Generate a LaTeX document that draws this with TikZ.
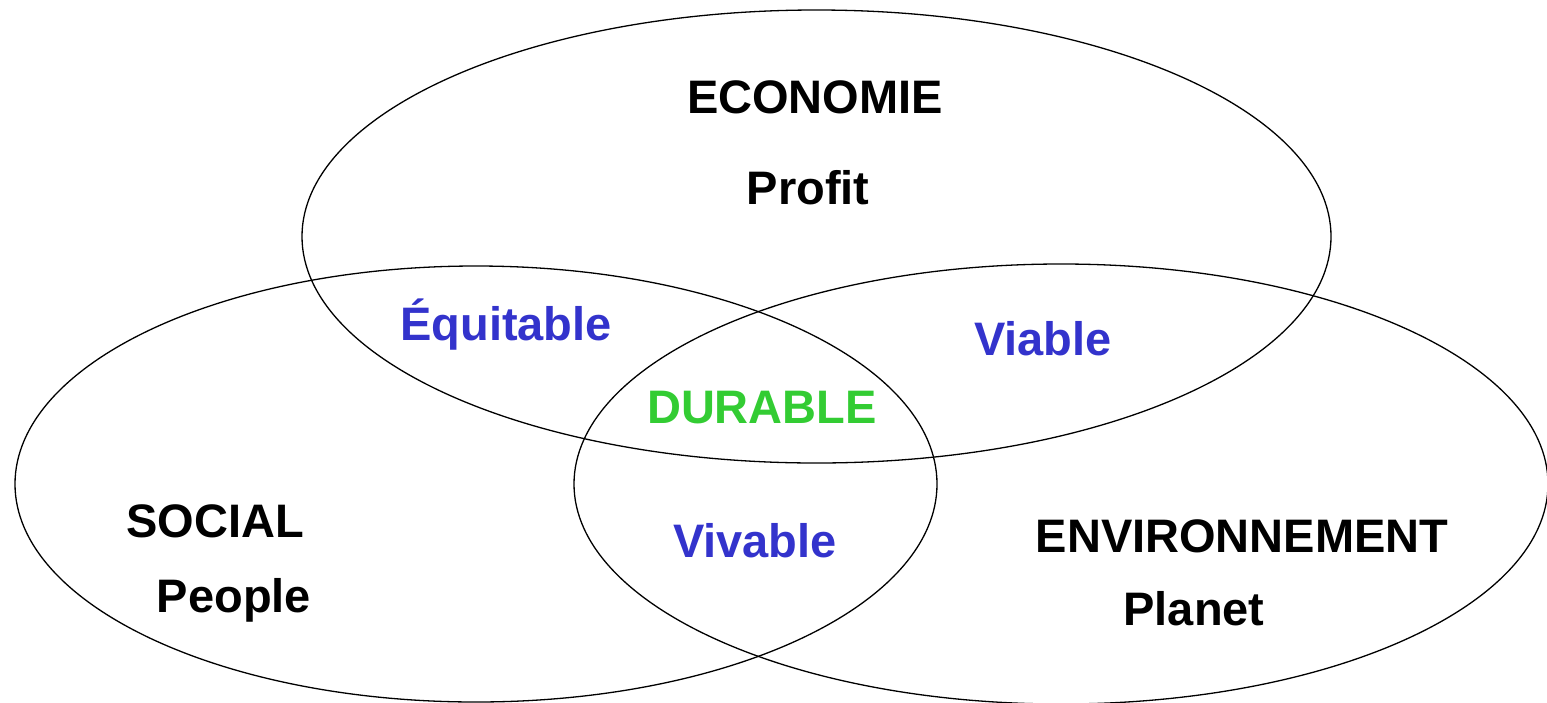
\documentclass[tikz,border=0pt]{standalone}
\usepackage{fontspec}
\setmainfont{Liberation Sans}
\usetikzlibrary{positioning}

\definecolor{interblue}{RGB}{51,51,204}
\definecolor{coregreen}{RGB}{51,204,51}

\begin{document}
\begin{tikzpicture}[
  x=1pt, y=-1pt,
  font=\fontsize{47}{56}\selectfont\bfseries,
  ring/.style={draw, line width=1.3pt},
  pillar/.style={anchor=base, text=black},
  inter/.style={anchor=base, text=interblue},
  core/.style={anchor=base, text=coregreen}
]
\useasboundingbox (0,0) rectangle (1547,702);

% Three overlapping pillars
\coordinate (eco) at (816.5,236.5);
\coordinate (soc) at (476,484);
\coordinate (env) at (1061,484);
\draw[ring] (eco) ellipse [x radius=514.5, y radius=226.5];
\draw[ring] (soc) ellipse [x radius=461, y radius=218];
\draw[ring] (env) ellipse [x radius=487, y radius=220];

% Pillar labels
\node[pillar] (ecoT) at (815,113) {ECONOMIE};
\node[pillar] (ecoS) at (808,204) {Profit};
\node[pillar] (socT) at (215,537) {SOCIAL};
\node[pillar] (socS) at (234,612) {People};
\node[pillar] (envT) at (1242,552) {ENVIRONNEMENT};
\node[pillar] (envS) at (1194,625) {Planet};

% Pairwise overlaps
\node[inter] (equi) at (506,340) {Équitable};
\node[inter] (viab) at (1043,355) {Viable};
\node[inter] (viva) at (755,557) {Vivable};

% Centre
\node[core] (dur) at (762,423) {DURABLE};

\end{tikzpicture}
\end{document}
